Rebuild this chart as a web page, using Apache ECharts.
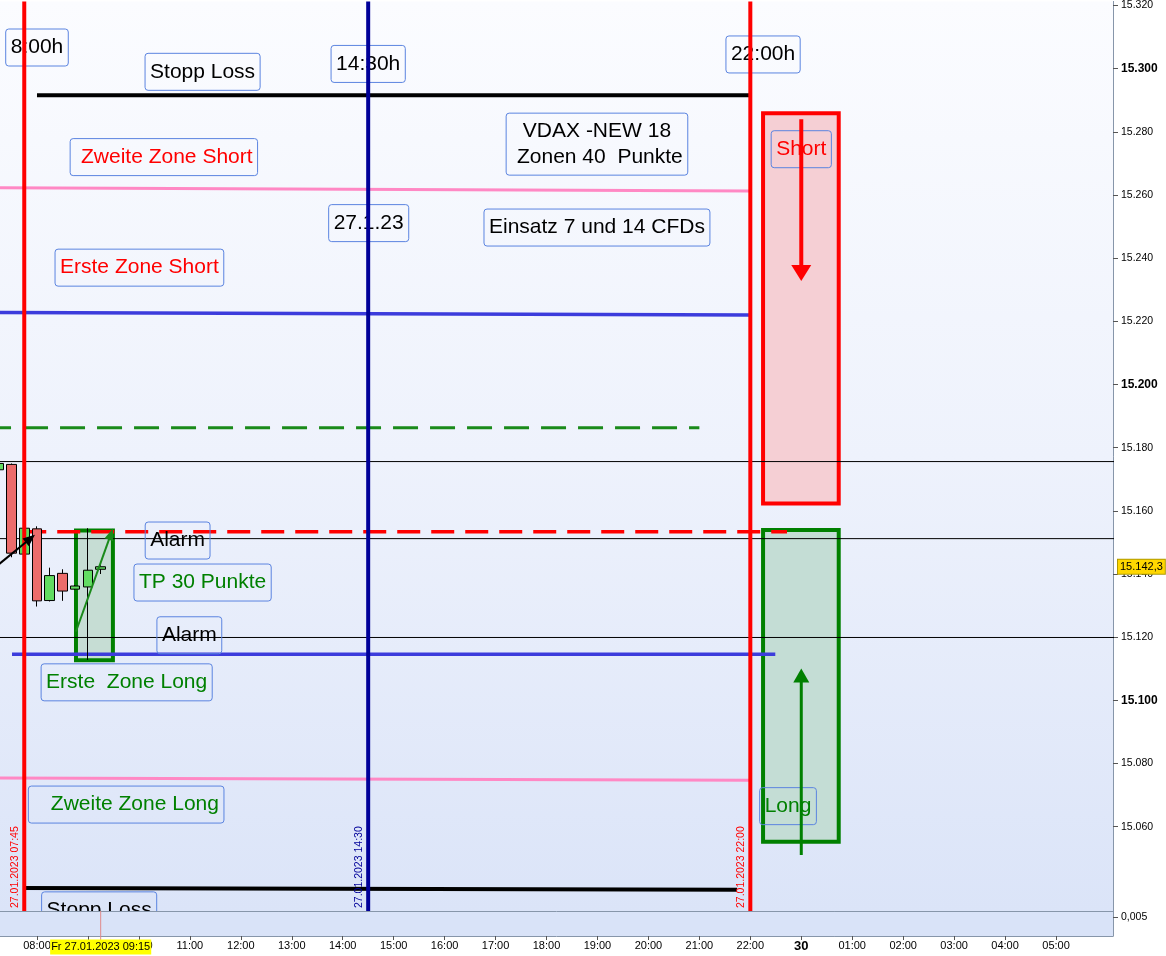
<!DOCTYPE html>
<html>
<head>
<meta charset="utf-8">
<script src="https://cdn.jsdelivr.net/npm/echarts@6/dist/echarts.min.js"></script>
<style>
html,body{margin:0;padding:0;background:#fff;}
#c{width:1166px;height:956px;}
</style>
</head>
<body>
<div id="c"></div>
<script>
// ================= DATA =================
// price axis ticks
const priceTicks = [15060,15080,15100,15120,15140,15160,15180,15200,15220,15240,15260,15280,15300,15320];
const boldPriceTicks = [15100,15200,15300];
// time axis (hours, weekend compressed: 23 = Monday "30")
const timeTickValues = [8,9,10,11,12,13,14,15,16,17,18,19,20,21,22,23,24,25,26,27,28];
const timeTickLabels = ['08:00','09:00','10:00','11:00','12:00','13:00','14:00','15:00','16:00','17:00','18:00','19:00','20:00','21:00','22:00','30','01:00','02:00','03:00','04:00','05:00'];
const indicatorTicks = [0.005];

// 15-minute candles
const candleTimes = [7.25, 7.5, 7.75, 8.0, 8.25, 8.5, 8.75, 9.0, 9.25];
const candleOpen  = [15173.0, 15174.7, 15146.3, 15154.3, 15131.6, 15140.2, 15135.2, 15135.9, 15141.5];
const candleClose = [15175.0, 15146.6, 15154.5, 15131.5, 15139.5, 15134.6, 15136.2, 15141.2, 15142.3];
const candleLow   = [15172.5, 15145.3, 15146.0, 15129.7, 15131.3, 15131.5, 15135.0, 15112.8, 15140.0];
const candleHigh  = [15175.5, 15175.0, 15154.8, 15155.1, 15142.0, 15141.5, 15136.5, 15154.5, 15142.8];

const lastPrice = 15142.3;
const lastPriceLabel = '15.142,3';
const cursorTime = 9.25;
const cursorLabel = 'Fr 27.01.2023 09:15';

// vertical session lines
const vLineTimes = [7.75, 14.5, 22];
const vLineLabels = ['27.01.2023 07:45', '27.01.2023 14:30', '27.01.2023 22:00'];

// horizontal levels: [startTime, startPrice, endTime, endPrice]
const stoppLossTop     = [8.0,   15291.6, 22.0,  15291.6];
const zweiteZoneShort  = [7.0,   15262.3, 22.0,  15261.3];
const ersteZoneShort   = [7.0,   15222.8, 22.0,  15222.0];
const greenDashLevel   = [7.0,   15186.3, 21.0,  15186.3];
const redDashLevel     = [7.73,  15153.4, 22.72, 15153.4];
const ersteZoneLong    = [7.51,  15114.6, 22.49, 15114.6];
const zweiteZoneLong   = [7.0,   15075.4, 22.0,  15074.7];
const stoppLossBottom  = [7.73,  15040.6, 21.74, 15040.0];
const alarmHigh        = [7.0,   15175.6, 30.0,  15175.6];
const alarmMid         = [7.0,   15151.2, 30.0,  15151.2];
const alarmLow         = [7.0,   15119.9, 30.0,  15119.9];

// zone boxes: [t1, pLow, t2, pHigh]
const shortBox = [22.25, 15162.3, 23.735, 15285.9];
const longBox  = [22.25, 15055.2, 23.735, 15153.9];
const tpBox    = [8.765, 15112.7, 9.49,  15153.8];

// arrows: [tStart, pStart, tTip, pTip]
const shortArrow = [23.0, 15284.0, 23.0, 15232.8];
const longArrow  = [23.0, 15051.0, 23.0, 15110.1];
const tpArrow    = [8.765, 15121.8, 9.49, 15154.4];
const entryArrow = [7.08, 15140.8, 7.96, 15152.4];

// text annotations
const noteTexts = ['8:00h','Stopp Loss','14:30h','22:00h',' Zweite Zone Short','VDAX -NEW 18\n Zonen 40  Punkte','27.1.23','Einsatz 7 und 14 CFDs','Erste Zone Short','Short','Alarm','TP 30 Punkte','Alarm','Erste  Zone Long','   Zweite Zone Long','Long','Stopp Loss'];
const noteTimes  = [8.0, 11.25, 14.5, 22.25, 10.49, 18.99, 14.51, 18.99, 10.01, 23.0, 10.76, 11.25, 10.99, 9.76, 9.75, 22.74, 9.22];
const notePrices = [15306.7, 15299.0, 15301.5, 15304.5, 15272.0, 15276.1, 15251.1, 15249.7, 15237.0, 15274.5, 15150.6, 15137.3, 15120.6, 15105.7, 15067.0, 15066.5, 15033.5];
const noteKinds  = ['k','k','k','k','r','k','k','k','r','r','k','g','k','g','g','g','k'];

// ================= STYLE / LAYOUT =================
const X_MIN = 7.274, X_MAX = 29.118;
const Y_MIN = 15033.3, Y_MAX = 15321.3;
const FONT = '"Liberation Sans", Arial, sans-serif';
const KIND_COLOR = {k:'#000000', r:'#ff0000', g:'#008000'};
const BOX_STYLES = [
  {fill:'#f5cfd4', stroke:'#ff0000', lw:4},
  {fill:'#c4ddd5', stroke:'#008000', lw:4},
  {fill:'#c6ddd4', stroke:'#008000', lw:4}
];
const ARROW_STYLES = [
  {color:'#ff0000', width:4, head:16, headW:20},
  {color:'#008000', width:3, head:14, headW:16},
  {color:'#1a8a1a', width:2, head:12, headW:9},
  {color:'#000000', width:2, head:12, headW:10}
];
const VLINE_COLORS = ['#ff0000', '#000099', '#ff0000'];

function fmtPrice(v){
  const s = String(Math.round(v));
  return s.slice(0, s.length-3) + '.' + s.slice(-3);
}

function hLine(seg, color, width, type, z){
  return {
    type:'line', xAxisIndex:0, yAxisIndex:0, silent:true, symbol:'none', z:z||3,
    data:[[seg[0], seg[1]], [seg[2], seg[3]]],
    lineStyle:{color:color, width:width, type:type||'solid', cap:'butt'},
    animation:false
  };
}

const chart = echarts.init(document.getElementById('c'), null, {renderer:'canvas'});

const series = [
  // zone boxes
  {
    type:'custom', xAxisIndex:0, yAxisIndex:0, clip:true, z:2, silent:true,
    data:[shortBox, longBox, tpBox],
    encode:{x:[0,2], y:[1,3]},
    renderItem:function(params, api){
      const a = api.coord([api.value(0), api.value(3)]);
      const b = api.coord([api.value(2), api.value(1)]);
      const st = BOX_STYLES[params.dataIndex];
      return {type:'rect', shape:{x:a[0], y:a[1], width:b[0]-a[0], height:b[1]-a[1]},
        style:{fill:st.fill, stroke:st.stroke, lineWidth:st.lw}};
    }
  },
  hLine(alarmHigh, '#000', 1, 'solid', 3),
  hLine(alarmMid, '#000', 1, 'solid', 3),
  hLine(alarmLow, '#000', 1, 'solid', 3),
  hLine(stoppLossTop, '#000', 4),
  hLine(zweiteZoneShort, '#ff88c4', 3),
  hLine(ersteZoneShort, '#3c3cdc', 3.5),
  hLine(greenDashLevel, '#1a8a1a', 3, [25,12]),
  hLine(redDashLevel, '#ff0000', 3.5, [23,11]),
  hLine(ersteZoneLong, '#3c3cdc', 3.5),
  hLine(zweiteZoneLong, '#ff88c4', 3),
  hLine(stoppLossBottom, '#000', 4),
  // candles
  {
    type:'candlestick', xAxisIndex:0, yAxisIndex:0, z:4, silent:true, animation:false,
    barWidth:10,
    data:candleTimes.map((t,i)=>[t, candleOpen[i], candleClose[i], candleLow[i], candleHigh[i]]),
    encode:{x:0, y:[1,2,3,4]},
    itemStyle:{color:'#62dc62', color0:'#ec6c6c', borderColor:'#000', borderColor0:'#000', borderColorDoji:'#000', borderWidth:1}
  },
  // text annotations
  {
    type:'custom', xAxisIndex:0, yAxisIndex:0, clip:true, z:5, silent:true,
    data:noteTimes.map((t,i)=>[t, notePrices[i]]),
    encode:{x:0, y:1},
    renderItem:function(params, api){
      const p = api.coord([api.value(0), api.value(1)]);
      const i = params.dataIndex;
      const multi = noteTexts[i].indexOf('\n') >= 0;
      return {type:'text', x:p[0], y:p[1], style:{
        text:noteTexts[i], fill:KIND_COLOR[noteKinds[i]],
        font:'21px ' + FONT, align:'center', verticalAlign:'middle',
        lineHeight: multi ? 26 : 23,
        borderColor:'#5b84e0', borderWidth:1, borderRadius:3,
        padding: multi ? [5,5] : [7,5]
      }};
    }
  },
  // vertical date labels
  {
    type:'custom', xAxisIndex:0, yAxisIndex:0, clip:true, z:5, silent:true,
    data:vLineTimes.map(t=>[t, Y_MIN]),
    encode:{x:0, y:1},
    renderItem:function(params, api){
      const p = api.coord([api.value(0), api.value(1)]);
      const i = params.dataIndex;
      return {type:'text', x:p[0]-9, y:p[1]-3, rotation:Math.PI/2, style:{
        text:vLineLabels[i], fill:VLINE_COLORS[i], font:'10.5px ' + FONT,
        align:'left', verticalAlign:'middle'
      }};
    }
  }
];
// vertical lines
vLineTimes.forEach((t,i)=>{
  series.push({
    type:'line', xAxisIndex:0, yAxisIndex:0, silent:true, symbol:'none', z:6, animation:false,
    data:[[t, Y_MIN], [t, Y_MAX]],
    lineStyle:{color:VLINE_COLORS[i], width:4, cap:'butt'}
  });
});
// arrows
series.push({
  type:'custom', xAxisIndex:0, yAxisIndex:0, clip:true, z:7, silent:true,
  data:[shortArrow, longArrow, tpArrow, entryArrow],
  encode:{x:[0,2], y:[1,3]},
  renderItem:function(params, api){
    const a = api.coord([api.value(0), api.value(1)]);
    const b = api.coord([api.value(2), api.value(3)]);
    const st = ARROW_STYLES[params.dataIndex];
    const dx = b[0]-a[0], dy = b[1]-a[1], len = Math.hypot(dx,dy);
    const ux = dx/len, uy = dy/len;
    const base = [b[0]-ux*st.head, b[1]-uy*st.head];
    const w = st.headW/2;
    const l = [base[0]-uy*w, base[1]+ux*w], r = [base[0]+uy*w, base[1]-ux*w];
    return {type:'group', children:[
      {type:'line', shape:{x1:a[0], y1:a[1], x2:base[0]+ux, y2:base[1]+uy}, style:{stroke:st.color, lineWidth:st.width}},
      {type:'polygon', shape:{points:[b, l, r]}, style:{fill:st.color}}
    ]};
  }
});
// last price tag on the right axis
series.push({
  type:'custom', xAxisIndex:0, yAxisIndex:0, clip:false, z:9, silent:true,
  data:[[X_MAX, lastPrice]],
  encode:{x:0, y:1},
  renderItem:function(params, api){
    const p = api.coord([api.value(0), api.value(1)]);
    return {type:'text', x:p[0]+5, y:p[1], style:{
      text:lastPriceLabel, fill:'#000', font:'11px ' + FONT, align:'left', verticalAlign:'middle',
      backgroundColor:'#ffd700', borderColor:'#b09a00', borderWidth:1, padding:[2,2,1,2]
    }};
  }
});
// cursor time tag + crosshair in the indicator panel
series.push({
  type:'custom', xAxisIndex:1, yAxisIndex:1, clip:false, z:9, silent:true,
  data:[[cursorTime, 0]],
  encode:{x:0, y:1},
  renderItem:function(params, api){
    const p = api.coord([api.value(0), api.value(1)]);
    const top = params.coordSys.y;
    return {type:'group', children:[
      {type:'line', shape:{x1:p[0], y1:top, x2:p[0], y2:p[1]+4}, style:{stroke:'#e08a8a', lineWidth:1}},
      {type:'text', x:p[0], y:p[1]+11, style:{
        text:cursorLabel, fill:'#000', font:'11px ' + FONT, align:'center', verticalAlign:'middle',
        backgroundColor:'#ffff00', padding:[2,1,2,1]
      }}
    ]};
  }
});

const axisGray = '#8796aa';
chart.setOption({
  animation:false,
  backgroundColor:'#ffffff',
  grid:[
    {left:0, right:53, top:0, height:911, show:true, borderWidth:0,
     backgroundColor:{type:'linear', x:0, y:0, x2:0, y2:1, colorStops:[
       {offset:0, color:'#fbfcff'}, {offset:0.5, color:'#eef2fc'}, {offset:1, color:'#dbe4f8'}]}},
    {left:0, right:53, top:911, height:25, show:true, borderWidth:0, backgroundColor:'#d9e3f8'}
  ],
  xAxis:[
    {gridIndex:0, type:'value', min:X_MIN, max:X_MAX,
     axisLine:{show:true, onZero:false, lineStyle:{color:axisGray, width:1}},
     axisTick:{show:false}, axisLabel:{show:false}, splitLine:{show:false}},
    {gridIndex:1, type:'value', min:X_MIN, max:X_MAX,
     axisLine:{show:true, onZero:false, lineStyle:{color:axisGray, width:1}},
     axisTick:{show:true, length:4, customValues:timeTickValues, lineStyle:{color:'#555'}},
     axisLabel:{show:true, customValues:timeTickValues, margin:4, color:'#000', fontSize:11, fontFamily:FONT,
       formatter:function(v){
         const i = timeTickValues.indexOf(Math.round(v));
         const s = i >= 0 ? timeTickLabels[i] : '';
         return s === '30' ? '{d|' + s + '}' : s;
       },
       rich:{d:{fontWeight:'bold', fontSize:13, fontFamily:FONT, color:'#000'}}},
     splitLine:{show:false}}
  ],
  yAxis:[
    {gridIndex:0, type:'value', position:'right', min:Y_MIN, max:Y_MAX,
     axisLine:{show:true, onZero:false, lineStyle:{color:axisGray, width:1}},
     axisTick:{show:true, length:5, customValues:priceTicks, lineStyle:{color:'#555'}},
     axisLabel:{show:true, customValues:priceTicks, margin:8, color:'#000', fontSize:10.5, fontFamily:FONT,
       formatter:function(v){
         const s = fmtPrice(v);
         return boldPriceTicks.indexOf(Math.round(v)) >= 0 ? '{b|' + s + '}' : s;
       },
       rich:{b:{fontWeight:'bold', fontSize:12, fontFamily:FONT, color:'#000'}}},
     splitLine:{show:false}},
    {gridIndex:1, type:'value', position:'right', min:0, max:0.0065,
     axisLine:{show:true, onZero:false, lineStyle:{color:axisGray, width:1}},
     axisTick:{show:true, length:5, customValues:indicatorTicks, lineStyle:{color:'#555'}},
     axisLabel:{show:true, customValues:indicatorTicks, margin:8, color:'#000', fontSize:10.5, fontFamily:FONT,
       formatter:function(v){ return '0,005'; }},
     splitLine:{show:false}}
  ],
  series:series
});
</script>
</body>
</html>
